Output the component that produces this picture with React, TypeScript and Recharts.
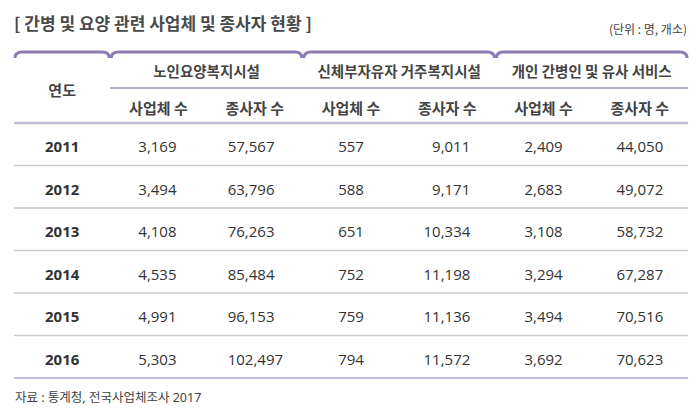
import { ScatterChart, Scatter, XAxis, YAxis } from "recharts";

const years = ["2011", "2012", "2013", "2014", "2015", "2016"];
const columns = ["연도", "노인-사업체", "노인-종사자", "신체-사업체", "신체-종사자", "개인-사업체", "개인-종사자"];
const groups = ["노인요양복지시설", "신체부자유자 거주복지시설", "개인 간병인 및 유사 서비스"];
const subHeads = ["사업체 수", "종사자 수"];

const elderFacilities = [3169, 3494, 4108, 4535, 4991, 5303];
const elderWorkers = [57567, 63796, 76263, 85484, 96153, 102497];
const disabledFacilities = [557, 588, 651, 752, 759, 794];
const disabledWorkers = [9011, 9171, 10334, 11198, 11136, 11572];
const careFacilities = [2409, 2683, 3108, 3294, 3494, 3692];
const careWorkers = [44050, 49072, 58732, 67287, 70516, 70623];

const W = 682;
const H = 404;
const M = { top: 115, right: 2, bottom: 34, left: 6 };
const BAND = (W - M.left - M.right) / columns.length;
const colX = (i: number) => M.left + BAND * (i + 0.5);
const edgeX = (i: number) => M.left + BAND * i;

const KR = "'Noto Sans CJK KR', 'Noto Sans', sans-serif";
const LATIN_KR = "'Noto Sans', 'Noto Sans CJK KR', sans-serif";
const NUM = "'Open Sans', 'Noto Sans', sans-serif";
const PURPLE = "#8d7cb3";

const fmt = (n: number) => n.toLocaleString("en-US");

const series = [
  { values: null as number[] | null, anchor: "middle", dx: 0, bold: true },
  { values: elderFacilities, anchor: "middle", dx: -1, bold: false },
  { values: elderWorkers, anchor: "start", dx: -27, bold: false },
  { values: disabledFacilities, anchor: "middle", dx: 0, bold: false },
  { values: disabledWorkers, anchor: "end", dx: 23, bold: false },
  { values: careFacilities, anchor: "middle", dx: 0, bold: false },
  { values: careWorkers, anchor: "middle", dx: 0, bold: false },
];

const cellShape = (anchor: string, dx: number, bold: boolean) => (props: any) => (
  <text
    x={props.cx + dx}
    y={props.cy + 2}
    textAnchor={anchor as any}
    dominantBaseline="central"
    style={{ fontFamily: NUM, fontSize: 15, fontWeight: bold ? 700 : 400 }}
    fill="#333"
  >
    {props.payload.label}
  </text>
);

// bracket-like top border for a header block
const bracket = (a: number, b: number) =>
  `M${a},50 Q${a},44 ${a + 7},44 L${b - 7},44 Q${b},44 ${b},50`;

const kr = (size: number, weight = 400) => ({ fontFamily: KR, fontSize: size, fontWeight: weight });

export default function App() {
  const rowH = (H - M.top - M.bottom) / years.length;
  return (
    <div style={{ position: "relative", width: W, height: H }}>
      <ScatterChart width={W} height={H} margin={M}>
        <XAxis dataKey="col" type="category" allowDuplicatedCategory={false} hide />
        <YAxis dataKey="year" type="category" allowDuplicatedCategory={false} reversed hide />
        {series.map((s, k) => (
          <Scatter
            key={k}
            data={years.map((y, i) => ({
              col: columns[k],
              year: y,
              label: s.values ? fmt(s.values[i]) : y,
            }))}
            shape={cellShape(s.anchor, s.dx, s.bold)}
            isAnimationActive={false}
          />
        ))}
      </ScatterChart>
      <svg
        width={W}
        height={H}
        style={{ position: "absolute", left: 0, top: 0, pointerEvents: "none" }}
      >
        <text x={6} y={14} dominantBaseline="central" style={kr(17, 700)} fill="#4a4a4a">
          [ 간병 및 요양 관련 사업체 및 종사자 현황 ]
        </text>
        <text x={679} y={20} textAnchor="end" dominantBaseline="central" style={kr(12)} fill="#444">
          (단위 : 명, 개소)
        </text>

        {[[0, 1], [1, 3], [3, 5], [5, 7]].map(([a, b], i) => (
          <path key={i} d={bracket(edgeX(a) + 1, edgeX(b) - 1)} fill="none" stroke={PURPLE} strokeWidth={3} />
        ))}

        <text x={colX(0)} y={81} textAnchor="middle" dominantBaseline="central" style={kr(15, 700)} fill="#444">
          연도
        </text>
        {groups.map((g, i) => (
          <text
            key={g}
            x={edgeX(1 + i * 2) + BAND}
            y={62}
            textAnchor="middle"
            dominantBaseline="central"
            style={kr(14.5, 700)}
            fill="#444"
          >
            {g}
          </text>
        ))}
        <line x1={edgeX(1)} x2={W - M.right} y1={80} y2={80} stroke="#9d90c1" strokeWidth={1.5} />
        {columns.slice(1).map((c, i) => (
          <text
            key={c}
            x={colX(i + 1)}
            y={99}
            textAnchor="middle"
            dominantBaseline="central"
            style={kr(15, 700)}
            fill="#444"
          >
            {subHeads[i % 2]}
          </text>
        ))}

        <line x1={M.left} x2={W - M.right} y1={M.top} y2={M.top} stroke="#c5bbdb" strokeWidth={2.5} />
        {years.slice(1).map((y, i) => (
          <line
            key={y}
            x1={M.left}
            x2={W - M.right}
            y1={M.top + rowH * (i + 1)}
            y2={M.top + rowH * (i + 1)}
            stroke="#cacaca"
            strokeWidth={1.5}
          />
        ))}
        <line x1={M.left} x2={W - M.right} y1={H - M.bottom} y2={H - M.bottom} stroke="#b3a7cf" strokeWidth={1.5} />

        <text
          x={7}
          y={389}
          dominantBaseline="central"
          style={{ fontFamily: LATIN_KR, fontSize: 12.5 }}
          fill="#444"
        >
          자료 : 통계청, 전국사업체조사 2017
        </text>
      </svg>
    </div>
  );
}
